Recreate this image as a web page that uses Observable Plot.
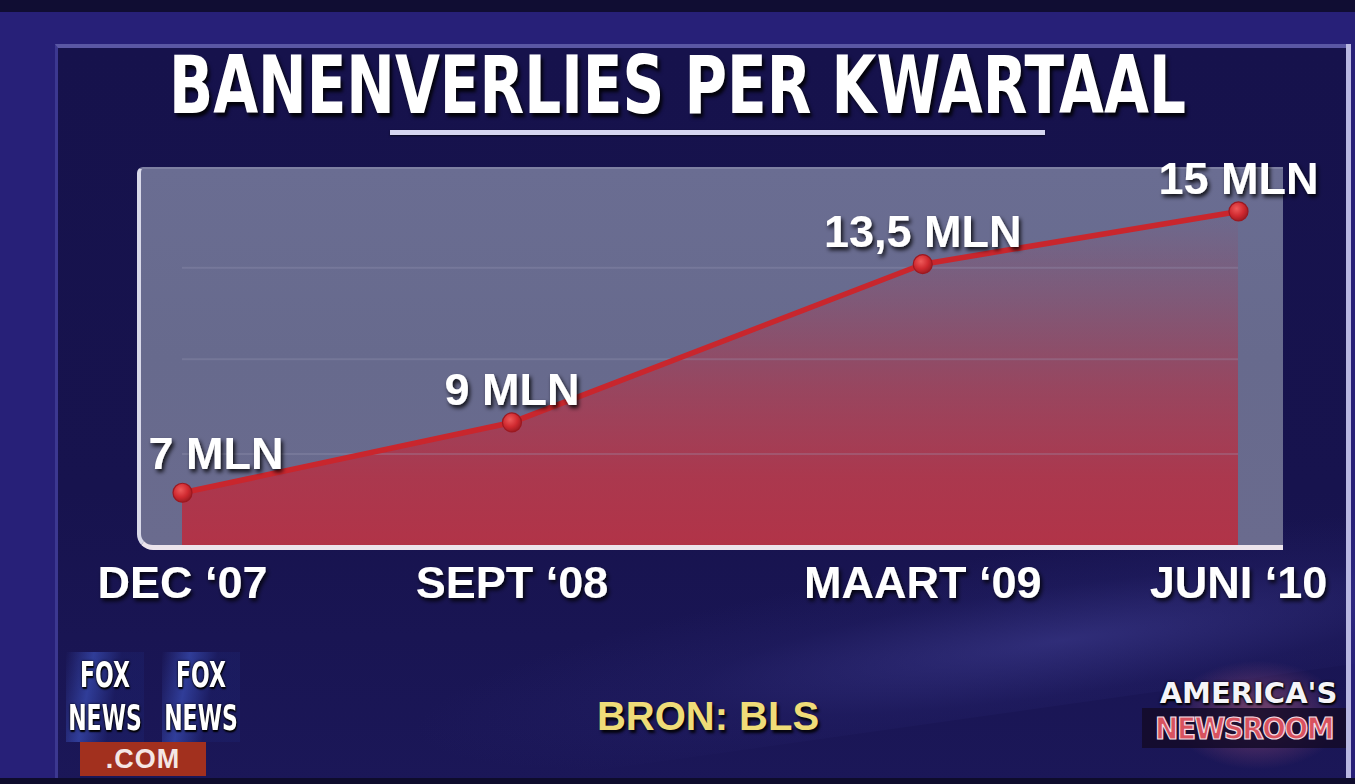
<!DOCTYPE html>
<html>
<head>
<meta charset="utf-8">
<script src="https://cdn.jsdelivr.net/npm/d3@7"></script>
<script src="https://cdn.jsdelivr.net/npm/@observablehq/plot@0.6"></script>
<style>
  html, body { margin: 0; padding: 0; background: #15124a; }
  #stage { position: relative; width: 1355px; height: 784px; overflow: hidden;
    background: #272078; font-family: "Liberation Sans", Arial, sans-serif; }
  .abs { position: absolute; }
  #topstrip { left: 0; top: 0; width: 1355px; height: 12px; background: #100d33; }
  #inner { left: 55px; top: 44px; width: 1292px; height: 740px;
    background: linear-gradient(180deg, #16124c 0%, #17134e 60%, #1b1758 100%);
    border-top: 4px solid #5a57a4; border-left: 3px solid #3c3890; box-sizing: border-box; }
  #rightline { left: 1346px; top: 44px; width: 5px; height: 740px; background: #b9b8e2; }
  #streak { left: 400px; top: 560px; width: 1100px; height: 160px;
    background: radial-gradient(ellipse at 60% 60%, rgba(90,90,190,0.35) 0%, rgba(60,60,150,0.12) 40%, rgba(0,0,0,0) 70%);
    transform: rotate(-8deg); }
  #title { left: 0; top: 46px; width: 1355px; text-align: center; white-space: nowrap;
    font-family: "Liberation Sans Narrow", "DejaVu Sans Condensed", "Liberation Sans", sans-serif;
    font-weight: bold; font-size: 80px; line-height: 80px; color: #ffffff;
    text-shadow: 3px 4px 4px rgba(0,0,0,0.85); }
  #title span { display: inline-block; transform-origin: 50% 50%; }
  #underline { left: 390px; top: 130px; width: 655px; height: 5px; background: #d6d6f0;
    box-shadow: 0 1px 2px rgba(0,0,0,0.6); }
  #panel { left: 137px; top: 167px; width: 1146px; height: 383px; box-sizing: border-box;
    background: linear-gradient(180deg, #6a6d92 0%, #676a8d 50%, #6a6b8e 100%);
    border-left: 4px solid #d9d9e9; border-bottom: 5px solid #ece4ec; border-top: 2px solid #7e80a2;
    border-radius: 6px 0 0 16px; }
  #chart { left: 0; top: 140px; }
  #bron { left: 0; top: 696px; width: 1416px; text-align: center; font-weight: bold;
    font-size: 40px; line-height: 40px; color: #efdc78; text-shadow: 2px 3px 3px rgba(0,0,0,0.9); }
  .foxbox { top: 652px; width: 78px; height: 90px;
    background: linear-gradient(100deg, rgba(60,80,200,0.0) 0%, rgba(70,100,220,0.5) 30%, rgba(30,40,120,0.3) 60%); }
  .fox { width: 110px; color: #fff; text-align: center; white-space: nowrap;
    font-family: "DejaVu Sans Condensed", "DejaVu Sans", sans-serif;
    font-weight: bold; font-size: 36px; line-height: 42px;
    transform: scaleX(0.68); transform-origin: 50% 50%;
    text-shadow: 0 0 3px #000, 1px 2px 2px #000; }
  #com { left: 80px; top: 742px; width: 126px; height: 34px; background: #a2301e; color: #f4e6e4;
    font-weight: bold; font-size: 27px; line-height: 34px; text-align: center; letter-spacing: 1px; }
  #glow { left: 1170px; top: 660px; width: 175px; height: 110px;
    background: radial-gradient(ellipse at 50% 50%, rgba(200,110,130,0.55) 0%, rgba(160,80,120,0.25) 45%, rgba(0,0,0,0) 70%); }
  #amer { left: 1146px; top: 678px; width: 205px; text-align: center; color: #f4f4f8; font-weight: bold;
    font-size: 29px; line-height: 30px; text-shadow: 0 0 3px #000, 1px 2px 2px #000;
    font-family: "DejaVu Sans", "Liberation Sans", sans-serif; }
  #newsroom { left: 1142px; top: 708px; width: 204px; height: 40px; background: rgba(20,10,40,0.85);
    color: #d8525e; font-weight: bold; font-size: 31px; line-height: 40px; text-align: center;
    -webkit-text-stroke: 1.2px #f2dce4; letter-spacing: -1.5px;
    font-family: "DejaVu Sans Condensed", "DejaVu Sans", "Liberation Sans", sans-serif; white-space: nowrap; }
  #bottomstrip { left: 0; top: 778px; width: 1355px; height: 6px; background: #0e0c2c; }
</style>
</head>
<body>
<div id="stage">
  <div class="abs" id="topstrip"></div>
  <div class="abs" id="inner"></div>
  <div class="abs" id="streak"></div>
  <div class="abs" id="rightline"></div>
  <div class="abs" id="title"><span>BANENVERLIES PER KWARTAAL</span></div>
  <div class="abs" id="underline"></div>
  <div class="abs" id="panel"></div>
  <div class="abs" id="chart"></div>
  <div class="abs" id="bron">BRON: BLS</div>
  <div class="abs foxbox" style="left:66px"></div>
  <div class="abs foxbox" style="left:162px"></div>
  <div class="abs fox" style="left:50px; top:654px">FOX</div>
  <div class="abs fox" style="left:50px; top:697px">NEWS</div>
  <div class="abs fox" style="left:146px; top:654px">FOX</div>
  <div class="abs fox" style="left:146px; top:697px">NEWS</div>
  <div class="abs" id="com">.COM</div>
  <div class="abs" id="glow"></div>
  <div class="abs" id="amer">AMERICA'S</div>
  <div class="abs" id="newsroom">NEWSROOM</div>
  <div class="abs" id="bottomstrip"></div>
</div>
<script>
// ---- data ----
const periods = ["DEC \u201807", "SEPT \u201808", "MAART \u201809", "JUNI \u201810"];
const slots = [0, 0.312, 0.701, 1];          // horizontal placement of each period as drawn
const jobsLost = [7, 9, 13.5, 15];            // millions
const valueLabels = ["7 MLN", "9 MLN", "13,5 MLN", "15 MLN"];
const gridValues = [8.1, 10.8, 13.4];
const yDomain = [5.5, 16.25];

const data = periods.map((p, i) => ({period: p, slot: slots[i], value: jobsLost[i], label: valueLabels[i]}));

// fit title width
const tspan = document.querySelector("#title span");
const tw = tspan.getBoundingClientRect().width;
tspan.style.transform = `scaleX(${1017 / tw})`;

const font = "Liberation Sans, Arial, sans-serif";
const chart = Plot.plot({
  width: 1355,
  height: 480,
  marginTop: 27,
  marginBottom: 75,
  marginLeft: 182,
  marginRight: 117,
  style: {background: "transparent", fontFamily: font, overflow: "visible"},
  x: {domain: [0, 1], axis: null},
  y: {domain: yDomain, axis: null},
  marks: [
    Plot.areaY(data, {x: "slot", y1: yDomain[0], y2: "value", fill: "url(#redfade)", curve: "linear"}),
    Plot.ruleY(gridValues, {stroke: "#9a9ab8", strokeOpacity: 0.28, strokeWidth: 2}),
    Plot.line(data, {x: "slot", y: "value", stroke: "#c9262d", strokeWidth: 5.5}),
    Plot.dot(data, {x: "slot", y: "value", r: 9.5, fill: "url(#dotgrad)", stroke: "#9c1820", strokeWidth: 1.2}),
    Plot.text(data.slice(0, 1), {x: "slot", y: "value", text: "label", textAnchor: "start", dx: -34, dy: -24,
      lineAnchor: "bottom", fontSize: 45, fontWeight: "bold", fill: "white"}),
    Plot.text(data.slice(1), {x: "slot", y: "value", text: "label", textAnchor: "middle", dy: -17,
      lineAnchor: "bottom", fontSize: 45, fontWeight: "bold", fill: "white"}),
    Plot.axisX({ticks: slots, tickFormat: d => periods[slots.indexOf(d)], tickSize: 0, tickPadding: 21,
      fontSize: 45, fontWeight: "bold", fill: "white", label: null})
  ]
});

const svg = d3.select(chart);
const defs = svg.insert("defs", ":first-child");
const g = defs.append("linearGradient").attr("id", "redfade").attr("gradientUnits", "userSpaceOnUse")
  .attr("x1", 0).attr("x2", 0).attr("y1", 60).attr("y2", 405);
[[0, 0.0], [0.3, 0.3], [0.55, 0.6], [0.8, 0.82], [1, 0.9]].forEach(([o, a]) =>
  g.append("stop").attr("offset", o).attr("stop-color", "#b92d40").attr("stop-opacity", a));
const rg = defs.append("radialGradient").attr("id", "dotgrad").attr("cx", "40%").attr("cy", "35%").attr("r", "65%");
rg.append("stop").attr("offset", 0).attr("stop-color", "#ee5a5a");
rg.append("stop").attr("offset", 0.6).attr("stop-color", "#d02a30");
rg.append("stop").attr("offset", 1).attr("stop-color", "#a01c22");
const f = defs.append("filter").attr("id", "shadow").attr("x", "-10%").attr("y", "-20%").attr("width", "130%").attr("height", "150%");
f.append("feDropShadow").attr("dx", 2).attr("dy", 3).attr("stdDeviation", 2.2)
  .attr("flood-color", "#000").attr("flood-opacity", 0.85);
svg.selectAll("text").attr("filter", "url(#shadow)");

document.getElementById("chart").appendChild(chart);
</script>
</body>
</html>
